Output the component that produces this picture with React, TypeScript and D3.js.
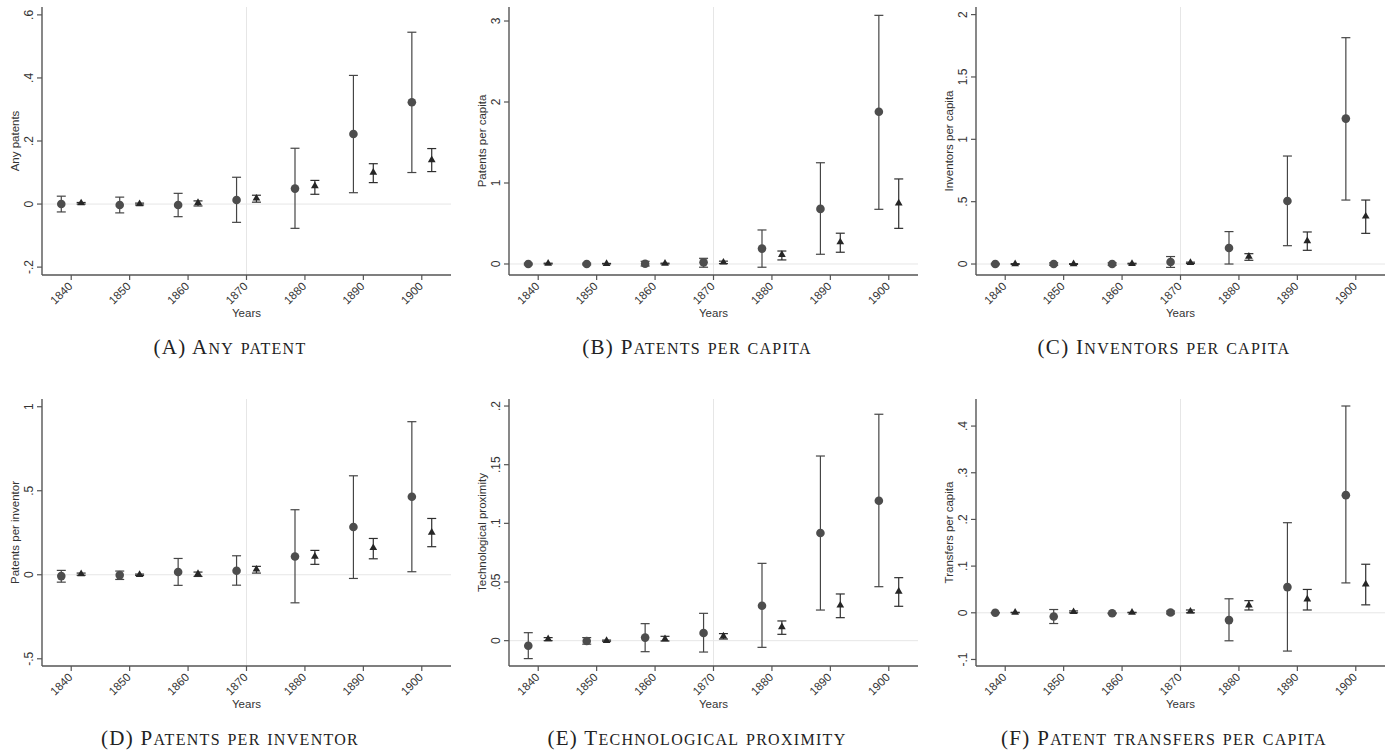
import React, { useEffect } from 'react';
import * as d3 from 'd3';

// event years and the two estimators (circle / triangle), each row is [estimate, ciLow, ciHigh]
const years = [1840, 1850, 1860, 1870, 1880, 1890, 1900];

const anyPatentCirc = [[0.0, -0.025, 0.025], [-0.003, -0.028, 0.022], [-0.003, -0.04, 0.034], [0.013, -0.058, 0.085], [0.049, -0.077, 0.177], [0.222, 0.036, 0.408], [0.323, 0.1, 0.545]];
const anyPatentTri = [[0.003, 0.0, 0.005], [0.0, -0.003, 0.003], [0.004, -0.006, 0.01], [0.018, 0.006, 0.028], [0.057, 0.031, 0.075], [0.1, 0.068, 0.128], [0.14, 0.103, 0.176]];

const patentsCapCirc = [[0.0, -0.01, 0.01], [0.0, -0.01, 0.01], [0.003, -0.025, 0.033], [0.02, -0.04, 0.07], [0.19, -0.04, 0.42], [0.68, 0.12, 1.25], [1.88, 0.675, 3.07]];
const patentsCapTri = [[0.005, 0.0, 0.01], [0.003, 0.0, 0.007], [0.005, 0.0, 0.01], [0.02, 0.005, 0.035], [0.115, 0.05, 0.16], [0.27, 0.145, 0.38], [0.75, 0.44, 1.05]];

const inventorsCapCirc = [[0.0, -0.005, 0.005], [0.0, -0.01, 0.01], [0.0, -0.01, 0.01], [0.016, -0.027, 0.06], [0.128, 0.0, 0.26], [0.505, 0.147, 0.866], [1.166, 0.513, 1.815]];
const inventorsCapTri = [[0.0, -0.003, 0.003], [0.0, -0.003, 0.003], [0.003, 0.0, 0.006], [0.01, 0.005, 0.015], [0.06, 0.03, 0.083], [0.185, 0.11, 0.257], [0.382, 0.246, 0.513]];

const perInventorCirc = [[-0.008, -0.044, 0.026], [-0.002, -0.028, 0.022], [0.016, -0.063, 0.097], [0.024, -0.062, 0.113], [0.109, -0.167, 0.387], [0.284, -0.022, 0.589], [0.464, 0.018, 0.911]];
const perInventorTri = [[0.005, -0.003, 0.01], [0.0, -0.004, 0.004], [0.006, -0.01, 0.016], [0.032, 0.01, 0.05], [0.109, 0.062, 0.145], [0.16, 0.095, 0.216], [0.252, 0.167, 0.335]];

const proximityCirc = [[-0.0043, -0.0153, 0.0068], [-0.0003, -0.003, 0.0026], [0.0026, -0.0094, 0.0145], [0.0065, -0.0097, 0.0233], [0.0298, -0.0057, 0.0659], [0.0918, 0.0261, 0.1574], [0.1193, 0.046, 0.193]];
const proximityTri = [[0.0014, 0.0, 0.0026], [0.0, -0.0005, 0.0005], [0.0014, -0.0003, 0.0037], [0.0037, 0.0014, 0.006], [0.0116, 0.0054, 0.0168], [0.0301, 0.0196, 0.0398], [0.042, 0.0293, 0.0537]];

const transfersCirc = [[0.0, 0.0, 0.0], [-0.008, -0.023, 0.007], [-0.001, -0.002, 0.0], [0.0007, -0.0023, 0.0037], [-0.0157, -0.06, 0.03], [0.055, -0.082, 0.193], [0.252, 0.064, 0.443]];
const transfersTri = [[0.0005, 0.0, 0.001], [0.002, 0.0, 0.004], [0.0005, 0.0, 0.001], [0.003, 0.0, 0.006], [0.016, 0.006, 0.026], [0.029, 0.006, 0.05], [0.061, 0.017, 0.104]];

const anyPatentTicks = [-0.2, 0, 0.2, 0.4, 0.6];
const anyPatentLabels = ['-.2', '0', '.2', '.4', '.6'];
const patentsCapTicks = [0, 1, 2, 3];
const patentsCapLabels = ['0', '1', '2', '3'];
const inventorsCapTicks = [0, 0.5, 1, 1.5, 2];
const inventorsCapLabels = ['0', '.5', '1', '1.5', '2'];
const perInventorTicks = [-0.5, 0, 0.5, 1];
const perInventorLabels = ['-.5', '0', '.5', '1'];
const proximityTicks = [0, 0.05, 0.1, 0.15, 0.2];
const proximityLabels = ['0', '.05', '.1', '.15', '.2'];
const transfersTicks = [-0.1, 0, 0.1, 0.2, 0.3, 0.4];
const transfersLabels = ['-.1', '0', '.1', '.2', '.3', '.4'];

const panels = [
  { ytitle: 'Any patents', letter: 'A', caption: 'Any patent', circ: anyPatentCirc, tri: anyPatentTri, ticks: anyPatentTicks, labels: anyPatentLabels, domain: [-0.225, 0.625], col: 0, row: 0 },
  { ytitle: 'Patents per capita', letter: 'B', caption: 'Patents per capita', circ: patentsCapCirc, tri: patentsCapTri, ticks: patentsCapTicks, labels: patentsCapLabels, domain: [-0.136, 3.173], col: 1, row: 0 },
  { ytitle: 'Inventors per capita', letter: 'C', caption: 'Inventors per capita', circ: inventorsCapCirc, tri: inventorsCapTri, ticks: inventorsCapTicks, labels: inventorsCapLabels, domain: [-0.088, 2.061], col: 2, row: 0 },
  { ytitle: 'Patents per inventor', letter: 'D', caption: 'Patents per inventor', circ: perInventorCirc, tri: perInventorTri, ticks: perInventorTicks, labels: perInventorLabels, domain: [-0.543, 1.046], col: 0, row: 1 },
  { ytitle: 'Technological proximity', letter: 'E', caption: 'Technological proximity', circ: proximityCirc, tri: proximityTri, ticks: proximityTicks, labels: proximityLabels, domain: [-0.0216, 0.206], col: 1, row: 1 },
  { ytitle: 'Transfers per capita', letter: 'F', caption: 'Patent transfers per capita', circ: transfersCirc, tri: transfersTri, ticks: transfersTicks, labels: transfersLabels, domain: [-0.114, 0.458], col: 2, row: 1 },
];

const SANS = '"Liberation Sans", Arial, sans-serif';
const SERIF = '"Liberation Serif", "Times New Roman", serif';
const OFFSET = 1.7; // years each estimator is shifted off the decade

// fake small caps: first letter of each word full size, the rest uppercase and smaller
function SmallCaps({ text }) {
  const parts = [];
  text.split(' ').forEach((w, wi) => {
    if (wi > 0) parts.push(<tspan key={'s' + wi} fontSize={21}>{' '}</tspan>);
    const first = w[0];
    const rest = w.slice(1);
    if (first === '(' || first === first.toUpperCase()) {
      parts.push(<tspan key={'f' + wi} fontSize={21}>{w.startsWith('(') ? w : first}</tspan>);
      if (!w.startsWith('(') && rest) parts.push(<tspan key={'r' + wi} fontSize={16}>{rest.toUpperCase()}</tspan>);
    } else {
      parts.push(<tspan key={'r' + wi} fontSize={16}>{w.toUpperCase()}</tspan>);
    }
  });
  return <>{parts}</>;
}

function Panel({ p }) {
  const left = 42 + p.col * 467;
  const top = p.row === 0 ? 7 : 399;
  const bottom = p.row === 0 ? 275 : 666;
  const width = 409;

  const x = d3.scaleLinear().domain([1835, 1905]).range([left, left + width]);
  const y = d3.scaleLinear().domain(p.domain).range([bottom, top]);
  const tri = d3.symbol().type(d3.symbolTriangle).size(26);

  const bar = (yr, d, key, color) => {
    const cx = x(yr);
    return (
      <g key={key} stroke={color} strokeWidth={1.2}>
        <line x1={cx} x2={cx} y1={y(d[1])} y2={y(d[2])} />
        <line x1={cx - 4.5} x2={cx + 4.5} y1={y(d[1])} y2={y(d[1])} />
        <line x1={cx - 4.5} x2={cx + 4.5} y1={y(d[2])} y2={y(d[2])} />
      </g>
    );
  };

  return (
    <g>
      {/* reference lines */}
      <line x1={x(1870)} x2={x(1870)} y1={top} y2={bottom} stroke="#e6e6e6" strokeWidth={1} />
      <line x1={left} x2={left + width} y1={y(0)} y2={y(0)} stroke="#e6e6e6" strokeWidth={1} />

      {years.map((yr, i) => bar(yr - OFFSET, p.circ[i], 'cb' + i, '#454545'))}
      {years.map((yr, i) => bar(yr + OFFSET, p.tri[i], 'tb' + i, '#2e2e2e'))}
      {years.map((yr, i) => (
        <circle key={'c' + i} cx={x(yr - OFFSET)} cy={y(p.circ[i][0])} r={4.3} fill="#4d4d4d" />
      ))}
      {years.map((yr, i) => (
        <path key={'t' + i} d={tri()} transform={`translate(${x(yr + OFFSET)},${y(p.tri[i][0])})`} fill="#262626" />
      ))}

      {/* axes */}
      <line x1={left} x2={left} y1={top} y2={bottom} stroke="#555" strokeWidth={1.4} />
      <line x1={left} x2={left + width} y1={bottom} y2={bottom} stroke="#555" strokeWidth={1.4} />
      {p.ticks.map((t, i) => (
        <g key={'yt' + i}>
          <line x1={left - 5} x2={left} y1={y(t)} y2={y(t)} stroke="#555" strokeWidth={1.2} />
          <text transform={`translate(${left - 9},${y(t)}) rotate(-90)`} textAnchor="middle" fontSize={12} fontFamily={SANS} fill="#333">{p.labels[i]}</text>
        </g>
      ))}
      {years.map((yr, i) => (
        <g key={'xt' + i}>
          <line x1={x(yr)} x2={x(yr)} y1={bottom} y2={bottom + 5} stroke="#555" strokeWidth={1.2} />
          <text transform={`translate(${x(yr) + 2},${bottom + 12}) rotate(-45)`} textAnchor="end" fontSize={11.5} fontFamily={SANS} fill="#333">{yr}</text>
        </g>
      ))}
      <text transform={`translate(${left - 23},${(top + bottom) / 2}) rotate(-90)`} textAnchor="middle" fontSize={11.5} fontFamily={SANS} fill="#333">{p.ytitle}</text>
      <text x={left + width / 2} y={bottom + 42} textAnchor="middle" fontSize={11.5} fontFamily={SANS} fill="#333">Years</text>
      <text x={left + 188} y={bottom + 79} textAnchor="middle" fontFamily={SERIF} fill="#222" letterSpacing={1.3}>
        <SmallCaps text={`(${p.letter}) ${p.caption}`} />
      </text>
    </g>
  );
}

export default function App() {
  useEffect(() => {
    document.body.style.margin = '0';
  }, []);
  return (
    <svg width={1389} height={750} style={{ display: 'block', background: '#fff' }}>
      {panels.map((p) => (
        <Panel key={p.letter} p={p} />
      ))}
    </svg>
  );
}
